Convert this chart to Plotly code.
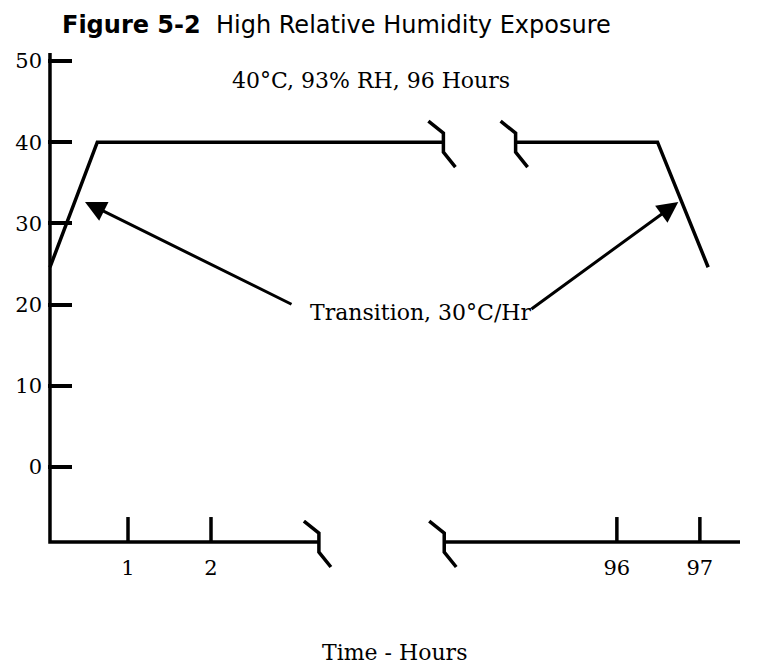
import plotly.graph_objects as go

# Temperature profile (hours, degC)
left_hours = [0.06, 0.63, 4.80]
left_temps = [24.6, 40.0, 40.0]
right_hours = [94.78, 96.49, 97.10]
right_temps = [40.0, 40.0, 24.6]

# Axis ticks
y_ticks = [0, 10, 20, 30, 40, 50]
x_tick_hours = [1, 2, 96, 97]
x_tick_labels = ["1", "2", "96", "97"]

# Broken time axis: hours after the break are drawn shifted left
BREAK_SHIFT = 89.11
AXIS_X0 = 0.06          # where the temperature axis sits (hours)
AXIS_Y0 = -9.24         # where the time axis sits (degC)
AXIS_TOP = 51.0
axis_left_end = 3.30    # hours
axis_right_start = 93.92
axis_right_end = 97.50

PX_X = 83.0   # px per display unit
PX_Y = 8.12   # px per degC

SERIF = "DejaVu Serif"
INK = "black"


def disp(h):
    return h if h < 50 else h - BREAK_SHIFT


def break_glyph(x, y):
    # small zig-zag drawn where a line is cut, offsets in pixels
    offs = [(-15, -21), (0, -9), (0, 10), (12, 25)]
    return ([x + dx / PX_X for dx, dy in offs],
            [y - dy / PX_Y for dx, dy in offs])


fig = go.Figure()

line = dict(color=INK, width=3.5)

# axes drawn as traces (time axis is broken)
fig.add_trace(go.Scatter(
    x=[AXIS_X0, AXIS_X0, axis_left_end],
    y=[AXIS_TOP, AXIS_Y0, AXIS_Y0],
    mode="lines", line=line, hoverinfo="skip"))
fig.add_trace(go.Scatter(
    x=[disp(axis_right_start), disp(axis_right_end)],
    y=[AXIS_Y0, AXIS_Y0],
    mode="lines", line=line, hoverinfo="skip"))

# time ticks and labels
tick_x, tick_y = [], []
for h in x_tick_hours:
    tick_x += [disp(h), disp(h), None]
    tick_y += [AXIS_Y0, AXIS_Y0 + 25 / PX_Y, None]
fig.add_trace(go.Scatter(x=tick_x, y=tick_y, mode="lines",
                         line=line, hoverinfo="skip"))
fig.add_trace(go.Scatter(
    x=[disp(h) for h in x_tick_hours],
    y=[AXIS_Y0 - 28 / PX_Y] * len(x_tick_hours),
    mode="text", text=x_tick_labels,
    textfont=dict(family=SERIF, size=21, color=INK),
    hoverinfo="skip", cliponaxis=False))

# profile
fig.add_trace(go.Scatter(x=[disp(h) for h in left_hours], y=left_temps,
                         mode="lines", line=line, hoverinfo="skip"))
fig.add_trace(go.Scatter(x=[disp(h) for h in right_hours], y=right_temps,
                         mode="lines", line=line, hoverinfo="skip"))

# break marks
breaks = [
    (disp(left_hours[-1]), left_temps[-1]),
    (disp(right_hours[0]), right_temps[0]),
    (disp(axis_left_end), AXIS_Y0),
    (disp(axis_right_start), AXIS_Y0),
]
for bx, by in breaks:
    gx, gy = break_glyph(bx, by)
    fig.add_trace(go.Scatter(x=gx, y=gy, mode="lines",
                             line=dict(color=INK, width=3.5),
                             hoverinfo="skip"))

# labels and arrows
fig.add_annotation(x=3.93, y=47.66, text="40°C, 93% RH, 96 Hours",
                   showarrow=False, font=dict(family=SERIF, size=22, color=INK))
fig.add_annotation(x=4.53, y=18.97, text="Transition, 30°C/Hr",
                   showarrow=False, font=dict(family=SERIF, size=22, color=INK))
fig.add_annotation(x=0.482, y=32.64, ax=2.988, ay=19.95,
                   axref="x", ayref="y", text="", showarrow=True,
                   arrowhead=2, arrowsize=1.4, arrowwidth=3,
                   arrowcolor=INK, standoff=0)
fig.add_annotation(x=disp(96.74), y=32.64, ax=5.843, ay=19.33,
                   axref="x", ayref="y", text="", showarrow=True,
                   arrowhead=2, arrowsize=1.4, arrowwidth=3,
                   arrowcolor=INK, standoff=0)

# axis title
fig.add_annotation(x=0.5, y=-0.096, xref="paper", yref="paper",
                   xanchor="center", yanchor="middle",
                   text="Time - Hours", showarrow=False,
                   font=dict(family=SERIF, size=22, color=INK))

fig.update_layout(
    width=765, height=668,
    margin=dict(l=48, r=25, t=48, b=68),
    paper_bgcolor="white", plot_bgcolor="white",
    showlegend=False,
    title=dict(
        text="<b>Figure 5-2</b>  High Relative Humidity Exposure",
        font=dict(family="DejaVu Sans", size=24, color=INK),
        x=62 / 765, xanchor="left", xref="container",
        y=1 - 25 / 668, yanchor="middle", yref="container"),
)
fig.update_xaxes(visible=False, range=[(48 - 45) / PX_X, (740 - 45) / PX_X])
fig.update_yaxes(
    range=[(467 - 600) / PX_Y, (467 - 48) / PX_Y],
    tickvals=y_ticks, ticktext=[str(v) for v in y_ticks],
    ticks="inside", ticklen=24, tickwidth=3.5, tickcolor=INK,
    ticklabelstandoff=5, automargin=False,
    showgrid=False, zeroline=False, showline=False,
    tickfont=dict(family=SERIF, size=21, color=INK),
)

fig.write_html("out.html", config={"displayModeBar": False},
               post_script="document.body.style.margin='0';")
